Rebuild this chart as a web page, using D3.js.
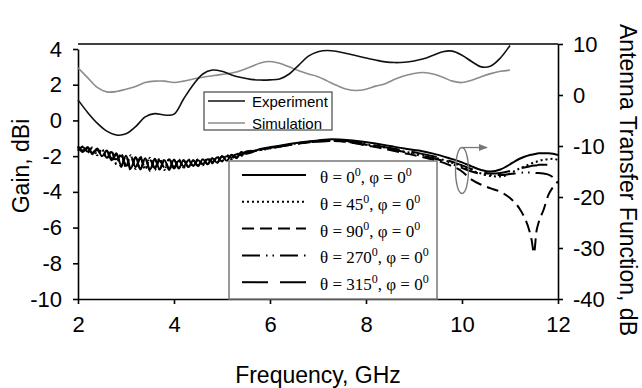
<!DOCTYPE html>
<html>
<head>
<meta charset="utf-8">
<script src="https://cdn.jsdelivr.net/npm/d3@7"></script>
<style>
  body { margin: 0; background: #fff; }
  svg { display: block; font-family: "Liberation Sans", Arial, sans-serif; }
  .leg2 text { font-family: "Liberation Serif", "Times New Roman", serif; }
</style>
</head>
<body>
<svg id="grafico"></svg>
<script>
// ganho (eixo esquerdo, dBi)
const freqGanho = [2.0, 2.2, 2.4, 2.6, 2.8, 3.0, 3.2, 3.4, 3.6, 3.8, 4.0, 4.2, 4.4, 4.6, 4.8, 5.0, 5.2, 5.4, 5.6, 5.8,
  6.0, 6.2, 6.4, 6.6, 6.8, 7.0, 7.2, 7.4, 7.6, 7.8, 8.0, 8.2, 8.4, 8.6, 8.8, 9.0, 9.2, 9.4, 9.6, 9.8,
  10.0, 10.2, 10.4, 10.6, 10.8, 11.0];
const experimento = [1.15, 0.45, -0.15, -0.6, -0.82, -0.75, -0.35, 0.2, 0.38, 0.3, 0.35, 1.2, 2.0, 2.6, 2.82, 2.75, 2.55, 2.4, 2.3, 2.26,
  2.27, 2.32, 2.6, 3.1, 3.6, 3.85, 3.92, 3.86, 3.75, 3.62, 3.5, 3.38, 3.28, 3.24, 3.26, 3.33, 3.45, 3.65, 3.85, 3.88,
  3.65, 3.3, 3.0, 3.05, 3.5, 4.2];
const simulacao = [2.95, 2.4, 1.85, 1.6, 1.62, 1.75, 1.9, 2.12, 2.2, 2.2, 2.12, 2.2, 2.32, 2.42, 2.5, 2.58, 2.66, 2.8, 3.0, 3.22,
  3.3, 3.2, 3.0, 2.78, 2.6, 2.45, 2.2, 1.95, 1.75, 1.68, 1.75, 1.92, 2.05, 2.3, 2.5, 2.63, 2.68, 2.6, 2.42, 2.2,
  2.12, 2.25, 2.45, 2.62, 2.75, 2.82];

// funcao de transferencia (eixo direito, dB)
const freqTransf = [2.0, 2.1, 2.2, 2.3, 2.4, 2.5, 2.6, 2.7, 2.8, 2.9, 3.0, 3.1, 3.2, 3.3, 3.4, 3.5, 3.6, 3.7, 3.8, 3.9,
  4.0, 4.1, 4.2, 4.3, 4.4, 4.5, 4.6, 4.7, 4.8, 4.9, 5.0, 5.1, 5.2, 5.3, 5.4, 5.5,
  5.8, 6.1, 6.4, 6.7, 7.0, 7.3, 7.6, 7.9, 8.2, 8.5, 8.8, 9.1, 9.4, 9.7, 10.0,
  10.2, 10.4, 10.6, 10.8, 11.0, 11.1, 11.2, 11.3, 11.4, 11.45, 11.5, 11.55, 11.6, 11.7, 11.8, 11.9, 12.0];
const teta0 = [-10.0, -11.2, -10.2, -11.6, -10.5, -12.0, -10.9, -12.8, -11.4, -13.8, -11.9, -14.4, -12.2, -14.6, -12.4, -14.6, -12.6, -14.5, -12.8, -14.4,
  -12.7, -14.3, -12.8, -14.1, -12.8, -13.9, -12.6, -13.6, -12.4, -13.3, -12.0, -12.9, -11.7, -12.4, -11.2, -11.5,
  -10.6, -10.1, -9.6, -9.2, -8.9, -8.7, -8.8, -9.1, -9.5, -10.0, -10.5, -10.9, -11.5, -12.3, -13.2,
  -14.0, -14.7, -15.0, -14.6, -13.6, -13.0, -12.5, -12.1, -11.8, -11.7, -11.6, -11.5, -11.4, -11.4, -11.4, -11.5, -11.8];
const teta45 = [-11.0, -10.1, -11.3, -10.3, -11.8, -10.6, -12.4, -11.0, -13.5, -11.5, -14.2, -11.8, -14.5, -12.1, -14.6, -12.3, -14.7, -12.4, -14.7, -12.5,
  -14.4, -12.6, -14.3, -12.6, -14.0, -12.6, -13.8, -12.4, -13.4, -12.1, -13.0, -11.7, -12.6, -11.4, -12.0, -11.1,
  -10.8, -10.3, -9.7, -9.3, -9.0, -8.9, -9.1, -9.5, -10.0, -10.5, -11.1, -11.6, -12.2, -13.0, -14.0,
  -14.8, -15.4, -15.9, -16.0, -15.4, -14.9, -14.4, -14.0, -13.6, -13.4, -13.2, -13.1, -12.9, -12.7, -12.6, -12.5, -12.8];
const teta90 = [-10.3, -11.0, -10.5, -11.5, -10.7, -12.0, -11.0, -13.0, -11.6, -14.1, -11.9, -14.8, -12.2, -14.5, -12.4, -14.9, -12.5, -14.6, -12.6, -14.7,
  -12.7, -14.4, -12.8, -14.1, -12.8, -13.9, -12.7, -13.5, -12.4, -13.2, -12.0, -12.7, -11.8, -12.2, -11.5, -11.4,
  -10.7, -10.2, -9.8, -9.4, -9.1, -9.0, -9.2, -9.7, -10.2, -10.8, -11.4, -12.0, -12.7, -13.6, -15.0,
  -16.6, -17.6, -18.3, -19.0, -20.2, -21.1, -22.3, -24.0, -26.5, -28.4, -31.0, -26.8, -24.9, -22.5, -19.6, -18.0, -17.0];
const teta270 = [-10.8, -10.2, -11.1, -10.4, -11.6, -10.7, -12.3, -11.2, -13.6, -11.6, -13.9, -12.0, -14.3, -12.2, -14.4, -12.3, -14.3, -12.6, -14.5, -12.6,
  -14.4, -12.7, -14.2, -12.8, -13.9, -12.6, -13.6, -12.5, -13.3, -12.2, -13.0, -11.8, -12.5, -11.5, -11.8, -11.2,
  -10.8, -10.3, -9.8, -9.4, -9.1, -9.0, -9.2, -9.6, -10.1, -10.6, -11.2, -11.8, -12.4, -13.2, -14.3,
  -15.0, -15.5, -15.7, -15.7, -15.5, -15.4, -15.3, -15.2, -15.2, -15.2, -15.2, -15.3, -15.3, -15.4, -15.6, -16.2, -17.4];
const teta315 = [-10.2, -10.9, -10.4, -11.3, -10.8, -11.7, -11.3, -12.4, -12.6, -11.9, -13.7, -12.2, -14.1, -12.5, -14.2, -12.7, -14.3, -12.9, -14.2, -12.8,
  -14.1, -12.9, -14.0, -12.9, -13.7, -12.8, -13.5, -12.6, -13.1, -12.3, -12.7, -12.0, -12.3, -11.6, -11.6, -11.1,
  -10.7, -10.2, -9.7, -9.3, -9.0, -8.9, -9.0, -9.4, -9.9, -10.4, -10.9, -11.4, -12.0, -12.8, -13.8,
  -14.5, -15.1, -15.4, -15.3, -14.9, -14.6, -14.4, -14.2, -14.0, -13.9, -13.8, -13.8, -13.7, -13.7, -13.7, -13.9, -14.3];

const ticksX = [2, 4, 6, 8, 10, 12];
const ticksGanho = [-10, -8, -6, -4, -2, 0, 2, 4];
const ticksTransf = [-40, -30, -20, -10, 0, 10];
const angulos = ['0', '45', '90', '270', '315'];

const largura = 642, altura = 388;
const margem = { esquerda: 78, direita: 84, superior: 44, inferior: 89 };
const svg = d3.select('#grafico').attr('width', largura).attr('height', altura);

const x = d3.scaleLinear().domain([2, 12]).range([margem.esquerda, largura - margem.direita]);
const yG = d3.scaleLinear().domain([-10, 4]).range([altura - margem.inferior, 49]);
const yT = d3.scaleLinear().domain([-40, 10]).range([altura - margem.inferior, margem.superior]);

const base = altura - margem.inferior;
const fmt = d => String(d);

// eixos
const eixoX = d3.axisBottom(x).tickValues(ticksX).tickFormat(fmt).tickSize(5).tickSizeOuter(0).tickPadding(12);
const eixoE = d3.axisLeft(yG).tickValues(ticksGanho).tickFormat(fmt).tickSize(5).tickSizeOuter(0).tickPadding(11);
const eixoD = d3.axisRight(yT).tickValues(ticksTransf).tickFormat(fmt).tickSize(5).tickSizeOuter(0).tickPadding(10);

function estilo(g) {
  g.select('.domain').attr('stroke', '#000').attr('stroke-width', 1.6);
  g.selectAll('.tick line').attr('stroke', '#000').attr('stroke-width', 1.6);
  g.selectAll('.tick text').attr('fill', '#000').style('font-size', '22px')
    .style('font-family', '"Liberation Sans", Arial, sans-serif');
}

svg.append('g').attr('transform', `translate(0, ${base})`).call(eixoX).call(estilo);
svg.append('g').attr('transform', `translate(${margem.esquerda}, 0)`).call(eixoE).call(estilo);
svg.append('g').attr('transform', `translate(${largura - margem.direita}, 0)`).call(eixoD).call(estilo);

svg.append('line')
  .attr('x1', margem.esquerda).attr('x2', largura - margem.direita)
  .attr('y1', margem.superior).attr('y2', margem.superior)
  .attr('stroke', '#000').attr('stroke-width', 1.6);

// curvas de transferencia
const tracos = ['none', '2,3', '12,6', '18,6,1.5,5,1.5,6', '26,12'];
const series = [teta0, teta45, teta90, teta270, teta315];

const linhaT = d3.line().x((d, i) => x(freqTransf[i])).y(d => yT(d)).curve(d3.curveMonotoneX);

series.forEach((s, i) => {
  svg.append('path')
    .datum(s)
    .attr('d', linhaT)
    .attr('fill', 'none')
    .attr('stroke', '#000')
    .attr('stroke-width', 2)
    .attr('stroke-dasharray', tracos[i]);
});

// curvas de ganho
const linhaG = d3.line().x((d, i) => x(freqGanho[i])).y(d => yG(d)).curve(d3.curveCatmullRom.alpha(0.5));

svg.append('path').datum(simulacao).attr('d', linhaG)
  .attr('fill', 'none').attr('stroke', '#8c8c8c').attr('stroke-width', 1.6);
svg.append('path').datum(experimento).attr('d', linhaG)
  .attr('fill', 'none').attr('stroke', '#111').attr('stroke-width', 1.6);

// elipse e seta
svg.append('defs').append('marker')
  .attr('id', 'seta').attr('viewBox', '0 0 10 10').attr('refX', 9).attr('refY', 5)
  .attr('markerWidth', 7).attr('markerHeight', 7).attr('orient', 'auto')
  .append('path').attr('d', 'M0,1 L10,5 L0,9 Z').attr('fill', '#777');

svg.append('ellipse')
  .attr('cx', x(10)).attr('cy', yT(-14.8)).attr('rx', 6.5).attr('ry', 23)
  .attr('fill', 'none').attr('stroke', '#777').attr('stroke-width', 1.3);
svg.append('line')
  .attr('x1', x(10)).attr('x2', x(10.52)).attr('y1', yT(-10.3)).attr('y2', yT(-10.3))
  .attr('stroke', '#777').attr('stroke-width', 1.3).attr('marker-end', 'url(#seta)');

// legenda 1
const leg1 = svg.append('g');
leg1.append('rect').attr('x', 204).attr('y', 92).attr('width', 128).attr('height', 38)
  .attr('fill', '#fff').attr('stroke', '#555').attr('stroke-width', 1.3);
[['Experiment', '#111'], ['Simulation', '#8c8c8c']].forEach((e, i) => {
  const yy = 101 + i * 22;
  leg1.append('line').attr('x1', 208).attr('x2', 245).attr('y1', yy).attr('y2', yy)
    .attr('stroke', e[1]).attr('stroke-width', 1.6);
  leg1.append('text').attr('x', 252).attr('y', yy + 6).style('font-size', '15px').text(e[0]);
});

// legenda 2
const leg2 = svg.append('g').classed('leg2', true);
leg2.append('rect').attr('x', 229).attr('y', 161).attr('width', 208).attr('height', base - 161)
  .attr('fill', '#fff').attr('stroke', '#777').attr('stroke-width', 1.5);
angulos.forEach((a, i) => {
  const yy = 175 + i * 26.8;
  leg2.append('line').attr('x1', 242).attr('x2', 306).attr('y1', yy).attr('y2', yy)
    .attr('stroke', '#000').attr('stroke-width', 2).attr('stroke-dasharray', tracos[i]);
  const t = leg2.append('text').attr('x', 320).attr('y', yy + 8).style('font-size', '17px');
  t.append('tspan').text(`θ = ${a}`);
  t.append('tspan').attr('dy', -7).style('font-size', '12px').text('0');
  t.append('tspan').attr('dy', 7).text(', φ = 0');
  t.append('tspan').attr('dy', -7).style('font-size', '12px').text('0');
});

// titulos
svg.append('text')
  .attr('transform', `translate(29, 166) rotate(-90)`)
  .style('text-anchor', 'middle').style('font-size', '23px').text('Gain, dBi');
svg.append('text')
  .attr('transform', `translate(318, 383)`)
  .style('text-anchor', 'middle').style('font-size', '23px').text('Frequency, GHz');
svg.append('text')
  .attr('transform', `translate(620, 180) rotate(90)`)
  .style('text-anchor', 'middle').style('font-size', '23px').text('Antenna Transfer Function, dB');
</script>
</body>
</html>
